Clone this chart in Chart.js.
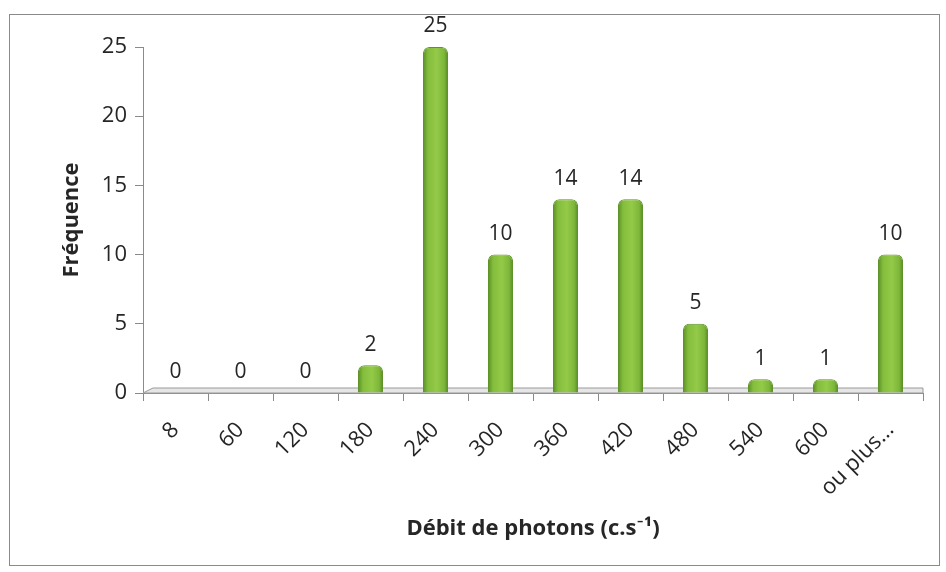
<!DOCTYPE html>
<html>
<head>
<meta charset="utf-8">
<script src="https://cdn.jsdelivr.net/npm/chart.js@4.4.0/dist/chart.umd.min.js"></script>
<style>
  html, body { margin: 0; padding: 0; background: #fff; }
  #wrap { position: relative; width: 946px; height: 572px; }
  #frame { position: absolute; left: 9px; top: 14px; width: 929px; height: 550px; border: 1px solid #8a8a8a; pointer-events: none; }
</style>
</head>
<body>
<div id="wrap">
  <canvas id="histChart" width="946" height="572"></canvas>
  <div id="frame"></div>
</div>
<script>
// Histogram of photon rates

const binLabels = ["8", "60", "120", "180", "240", "300", "360", "420", "480", "540", "600", "ou plus..."];
const frequencies = [0, 0, 0, 2, 25, 10, 14, 14, 5, 1, 1, 10];
const yTicks = [0, 5, 10, 15, 20, 25];

const fontFamily = "'Open Sans', Lato, sans-serif";

// cylinder-ish shading across each bar
function barShade(context) {
  const chart = context.chart;
  const xScale = chart.scales.x;
  if (!xScale || !chart.chartArea) return "#84bd3c";
  const cx = xScale.getPixelForValue(context.dataIndex);
  const half = 12.5;
  const g = chart.ctx.createLinearGradient(cx - half, 0, cx + half, 0);
  g.addColorStop(0, "#5a8f28");
  g.addColorStop(0.2, "#84bd3c");
  g.addColorStop(0.55, "#94ca48");
  g.addColorStop(0.85, "#7db63a");
  g.addColorStop(1, "#578a26");
  return g;
}

// thin grey floor like the original 3D plot
const floorPlugin = {
  id: "floor",
  beforeDatasetsDraw(chart) {
    const { ctx, chartArea } = chart;
    const y = chart.scales.y.getPixelForValue(0);
    ctx.save();
    ctx.beginPath();
    ctx.moveTo(chartArea.left, y);
    ctx.lineTo(chartArea.left + 10, y - 5);
    ctx.lineTo(chartArea.right, y - 5);
    ctx.lineTo(chartArea.right, y);
    ctx.closePath();
    ctx.fillStyle = "#e6e6e6";
    ctx.fill();
    ctx.strokeStyle = "#9a9a9a";
    ctx.lineWidth = 1;
    ctx.stroke();
    ctx.restore();
  }
};

// value labels above bars
const valueLabels = {
  id: "valueLabels",
  afterDatasetsDraw(chart) {
    const ctx = chart.ctx;
    const meta = chart.getDatasetMeta(0);
    ctx.save();
    ctx.font = "21px " + fontFamily;
    ctx.fillStyle = "#262626";
    ctx.textAlign = "center";
    ctx.textBaseline = "bottom";
    meta.data.forEach((bar, i) => {
      ctx.fillText(String(frequencies[i]), bar.x, bar.y - 10);
    });
    ctx.restore();
  }
};

new Chart(document.getElementById("histChart"), {
  type: "bar",
  data: {
    labels: binLabels,
    datasets: [{
      data: frequencies,
      backgroundColor: barShade,
      borderColor: "#5f9229",
      borderWidth: 1,
      borderRadius: { topLeft: 6, topRight: 6 },
      borderSkipped: "bottom",
      categoryPercentage: 1,
      barPercentage: 0.385
    }]
  },
  options: {
    responsive: false,
    animation: false,
    layout: { padding: { left: 55, right: 23, top: 47, bottom: 26 } },
    plugins: { legend: { display: false }, tooltip: { enabled: false } },
    scales: {
      x: {
        afterFit(scale) { scale.height = 153; },
        border: { color: "#8a8a8a", width: 1 },
        grid: { drawOnChartArea: false, tickLength: 8, color: "#8a8a8a", offset: true },
        ticks: {
          minRotation: 45, maxRotation: 45, padding: 16,
          color: "#262626",
          font: { family: fontFamily, size: 22 }
        },
        title: {
          display: true,
          text: "Débit de photons (c.s⁻¹)",
          color: "#262626",
          font: { family: fontFamily, size: 22, weight: "bold" }
        }
      },
      y: {
        min: 0, max: 25,
        afterFit(scale) { scale.width = 88; },
        afterBuildTicks(scale) { scale.ticks = yTicks.map(v => ({ value: v })); },
        border: { color: "#8a8a8a", width: 1 },
        grid: { drawOnChartArea: false, tickLength: 8, color: "#8a8a8a" },
        ticks: {
          padding: 8,
          color: "#262626",
          font: { family: fontFamily, size: 22 }
        },
        title: {
          display: true,
          text: "Fréquence",
          color: "#262626",
          font: { family: fontFamily, size: 22, weight: "bold" }
        }
      }
    }
  },
  plugins: [floorPlugin, valueLabels]
});
</script>
</body>
</html>
